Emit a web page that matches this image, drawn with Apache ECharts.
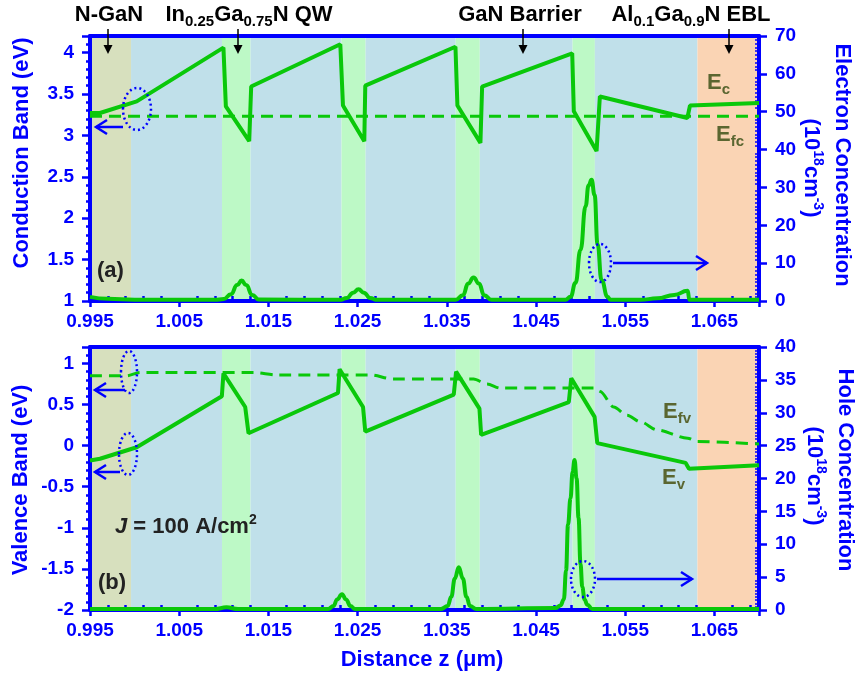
<!DOCTYPE html>
<html><head><meta charset="utf-8">
<script src="https://cdn.jsdelivr.net/npm/echarts@6/dist/echarts.min.js"></script>
<style>html,body{margin:0;padding:0;background:#fff}#c{width:856px;height:677px}</style>
</head><body><div id="c"></div>
<script>
// ---------------- data ----------------
const xTickLabels = ['0.995','1.005','1.015','1.025','1.035','1.045','1.055','1.065'];
const cbTickLabels = ['1','1.5','2','2.5','3','3.5','4'];
const vbTickLabels = ['-2','-1.5','-1','-0.5','0','0.5','1'];
const ecTickLabels = ['0','10','20','30','40','50','60','70'];
const hcTickLabels = ['0','5','10','15','20','25','30','35','40'];

// layer boundaries (um) and layer kinds
const regionBounds = [0.995, 0.9996, 1.0098, 1.0130, 1.0232, 1.0259, 1.0360, 1.0387, 1.0491, 1.0516, 1.0631, 1.07];
const regionKinds = ['nGaN','barrier','qw','barrier','qw','barrier','qw','barrier','qw','barrier','ebl'];

// conduction band Ec (eV)
const ecX = [0.995, 0.99612, 1.00024, 1.00996, 1.01023, 1.01285, 1.01307, 1.02306, 1.02336, 1.02575, 1.02586, 1.03597, 1.03619, 1.03877, 1.03896, 1.04906, 1.04924, 1.05179, 1.05216, 1.06197, 1.06226, 1.07];
const ecY = [3.27, 3.27, 3.41, 4.06, 3.35, 2.93, 3.59, 4.10, 3.36, 2.93, 3.60, 4.07, 3.36, 2.91, 3.59, 3.99, 3.29, 2.81, 3.47, 3.21, 3.36, 3.39];
// electron quasi-Fermi level Efc (eV)
const efcX = [0.995, 1.07];
const efcY = [3.23, 3.23];
// electron concentration (1e18 cm^-3)
const nX = [0.995, 0.997, 1.000, 1.0090, 1.0100, 1.0108, 1.0115, 1.0120, 1.0125, 1.0132, 1.0139, 1.0230, 1.0238, 1.0245, 1.0251, 1.0257, 1.0264, 1.0272, 1.0360, 1.0368, 1.0374, 1.0380, 1.0386, 1.0392, 1.0400, 1.04831, 1.04887, 1.04943, 1.04999, 1.05056, 1.05089, 1.05123, 1.05157, 1.0519, 1.05235, 1.05302, 1.05336, 1.0567, 1.0586, 1.0605, 1.0620, 1.0622, 1.07];
const nY = [1.1, 0.6, 0.35, 0.3, 0.5, 1.8, 4.2, 5.4, 4.2, 1.6, 0.4, 0.3, 0.8, 2.2, 3.1, 2.2, 0.8, 0.3, 0.3, 1.5, 4.6, 6.2, 4.6, 1.5, 0.3, 0.3, 1.1, 4.8, 13.5, 25, 30.5, 32, 28, 15, 5.5, 1.1, 0.3, 0.3, 0.7, 1.6, 2.7, 0.3, 0.3];

// valence band Ev (eV)
const evX = [0.995, 0.99612, 1.00024, 1.00978, 1.00996, 1.0124, 1.01277, 1.0228, 1.02298, 1.02561, 1.02586, 1.03578, 1.03604, 1.03866, 1.03885, 1.04868, 1.04895, 1.05157, 1.05187, 1.06178, 1.06215, 1.07];
const evY = [-0.18, -0.16, -0.02, 0.60, 0.88, 0.47, 0.15, 0.64, 0.93, 0.47, 0.17, 0.62, 0.90, 0.45, 0.13, 0.53, 0.82, 0.35, 0.03, -0.21, -0.28, -0.24];
// hole quasi-Fermi level Efv (eV)
const efvX = [0.995, 0.9991, 1.0006, 1.0133, 1.0160, 1.0264, 1.0290, 1.0380, 1.0395, 1.0410, 1.0516, 1.0522, 1.0537, 1.0552, 1.0567, 1.0586, 1.0620, 1.0631, 1.07];
const efvY = [0.85, 0.85, 0.89, 0.89, 0.86, 0.86, 0.81, 0.81, 0.75, 0.70, 0.70, 0.66, 0.47, 0.37, 0.29, 0.19, 0.09, 0.05, 0.02];
// hole concentration (1e18 cm^-3)
const pX = [0.995, 1.0090, 1.0103, 1.0116, 1.0217, 1.0223, 1.0227, 1.02325, 1.0237, 1.0242, 1.0247, 1.0343, 1.0351, 1.0355, 1.0359, 1.03634, 1.0368, 1.0372, 1.0376, 1.0383, 1.04719, 1.04775, 1.04812, 1.04837, 1.04859, 1.04887, 1.0491, 1.04932, 1.04955, 1.04977, 1.04999, 1.05019, 1.05044, 1.05075, 1.05131, 1.07];
const pY = [0.15, 0.15, 0.4, 0.15, 0.15, 0.6, 1.6, 2.4, 1.6, 0.6, 0.15, 0.15, 0.6, 2.0, 4.8, 6.5, 4.8, 2.0, 0.6, 0.15, 0.3, 0.7, 1.6, 6, 13, 17, 21, 22.8, 20, 14, 7, 3.5, 1.6, 0.8, 0.15, 0.15];

// ---------------- styles ----------------
const BLUE = '#0000ff';
const GREEN = '#0ac80a';
const OLIVE = '#5a6630';
const FONT = '"Liberation Sans", Arial, sans-serif';
const regionColors = {nGaN:'#d7e0be', barrier:'#c0e0ea', qw:'#bdf9c6', ebl:'#fad4b4'};

const zip = (xs, ys) => xs.map((x, i) => [x, ys[i]]);
const fmtFrom = (list, digits) => v => { const s = String(+(+v).toFixed(digits)); return list.includes(s) ? s : ''; };
const fmtX = v => { const s = (+v).toFixed(3); return xTickLabels.includes(s) ? s : ''; };

function bandAreas() {
  const d = [];
  for (let i = 0; i < regionKinds.length; i++) {
    d.push([{xAxis: regionBounds[i], itemStyle: {color: regionColors[regionKinds[i]]}}, {xAxis: regionBounds[i + 1]}]);
  }
  return d;
}

const labelStyle = {color: BLUE, fontSize: 19, fontWeight: 'bold', fontFamily: FONT};

function xMain(gi) {
  return {type: 'value', gridIndex: gi, min: 0.995, max: 1.07, interval: 0.01, position: 'bottom', z: 5,
    axisLine: {show: true, onZero: false, lineStyle: {color: BLUE, width: 4}},
    axisTick: {show: true, length: 6, lineStyle: {color: BLUE, width: 2.5}},
    minorTick: {show: false},
    axisLabel: Object.assign({show: true, margin: 11, formatter: fmtX}, labelStyle),
    splitLine: {show: false}};
}
function xMinor(gi) {
  return {type: 'value', gridIndex: gi, min: 0.995, max: 1.07, interval: 0.01, position: 'bottom', z: 5,
    axisLine: {show: false, onZero: false},
    axisTick: {show: false, inside: true},
    minorTick: {show: true, splitNumber: 5, length: 5, lineStyle: {color: BLUE, width: 2.5}},
    axisLabel: {show: false}, splitLine: {show: false}};
}
function xTop(gi) {
  return {type: 'value', gridIndex: gi, min: 0.995, max: 1.07, position: 'top', z: 5,
    axisLine: {show: true, onZero: false, lineStyle: {color: BLUE, width: 4}},
    axisTick: {show: false}, axisLabel: {show: false}, splitLine: {show: false}};
}
function yLeft(gi, min, max, list) {
  return {type: 'value', gridIndex: gi, min, max, interval: 0.5, position: 'left', z: 5,
    axisLine: {show: true, onZero: false, lineStyle: {color: BLUE, width: 4}},
    axisTick: {show: true, length: 8, lineStyle: {color: BLUE, width: 2.5}},
    minorTick: {show: true, splitNumber: 5, length: 4, lineStyle: {color: BLUE, width: 2.5}},
    axisLabel: Object.assign({show: true, margin: 16, formatter: fmtFrom(list, 2)}, labelStyle),
    splitLine: {show: false}, minorSplitLine: {show: false}};
}
function yRight(gi, max, interval, list) {
  return {type: 'value', gridIndex: gi, min: 0, max, interval, position: 'right', z: 5,
    axisLine: {show: true, onZero: false, lineStyle: {color: BLUE, width: 4}},
    axisTick: {show: true, length: 8, lineStyle: {color: BLUE, width: 2.5}},
    minorTick: {show: false},
    axisLabel: Object.assign({show: true, margin: 16, formatter: fmtFrom(list, 2)}, labelStyle),
    splitLine: {show: false}};
}
function yRightMinor(gi, max, interval) {
  return {type: 'value', gridIndex: gi, min: 0, max, interval, position: 'right', z: 5,
    axisLine: {show: false, onZero: false},
    axisTick: {show: false, inside: true},
    minorTick: {show: true, splitNumber: 10, length: 4, lineStyle: {color: BLUE, width: 1.5}},
    axisLabel: {show: false}, splitLine: {show: false}};
}

function lineSeries(xi, yi, data, dashed, smooth) {
  return {type: 'line', xAxisIndex: xi, yAxisIndex: yi, data, symbol: 'none', showSymbol: false, z: 6,
    smooth: smooth || false, smoothMonotone: 'x', animation: false,
    lineStyle: {color: GREEN, width: dashed ? 3 : 4, type: dashed ? [12, 7] : 'solid'}};
}
function bandSeries(xi, yi) {
  return {type: 'line', xAxisIndex: xi, yAxisIndex: yi, data: [], z: 1, silent: true,
    markArea: {silent: true, label: {show: false}, data: bandAreas()}};
}

// ---------------- graphic helpers ----------------
const richBase = (color, size) => ({
  m: {fontSize: size, fontWeight: 'bold', fontFamily: FONT, fill: color, lineHeight: 28},
  i: {fontSize: size, fontWeight: 'bold', fontStyle: 'italic', fontFamily: FONT, fill: color, lineHeight: 28},
  s: {fontSize: 15, fontWeight: 'bold', fontFamily: FONT, fill: color, lineHeight: 10, verticalAlign: 'bottom'},
  u: {fontSize: 14, fontWeight: 'bold', fontFamily: FONT, fill: color, lineHeight: 13, verticalAlign: 'top'}
});
function T(x, y, text, color, opt) {
  opt = opt || {};
  return {type: 'text', x, y, rotation: opt.rot || 0, z: 100, silent: true,
    style: {text, rich: richBase(color, opt.size || 22), align: opt.align || 'center', verticalAlign: 'middle'}};
}
function blackArrow(x, y1, y2) {
  return [
    {type: 'line', z: 100, shape: {x1: x, y1: y1, x2: x, y2: y2 - 6}, style: {stroke: '#000', lineWidth: 1.5}},
    {type: 'polygon', z: 100, shape: {points: [[x - 4.5, y2 - 9], [x + 4.5, y2 - 9], [x, y2]]}, style: {fill: '#000'}}
  ];
}
function blueArrow(x1, x2, y) {
  const d = x2 > x1 ? 1 : -1;
  return [
    {type: 'line', z: 100, shape: {x1, y1: y, x2, y2: y}, style: {stroke: BLUE, lineWidth: 2.5}},
    {type: 'polyline', z: 100, shape: {points: [[x2 - d * 11, y - 7], [x2, y], [x2 - d * 11, y + 7]]}, style: {stroke: BLUE, lineWidth: 2.5, fill: null}}
  ];
}
function dotEllipse(cx, cy, rx, ry) {
  return {type: 'ellipse', z: 100, shape: {cx, cy, rx, ry}, style: {fill: null, stroke: BLUE, lineWidth: 2.5, lineDash: [2, 3]}};
}

const graphics = [].concat(
  T(109, 15, '{m|N-GaN}', '#000'),
  T(249, 15, '{m|In}{s|0.25}{m|Ga}{s|0.75}{m|N QW}', '#000'),
  T(520, 15, '{m|GaN Barrier}', '#000'),
  T(691, 15, '{m|Al}{s|0.1}{m|Ga}{s|0.9}{m|N EBL}', '#000'),
  blackArrow(108, 29, 54), blackArrow(238, 29, 54), blackArrow(523, 29, 54), blackArrow(729, 29, 54),
  T(707, 83, '{m|E}{s|c}', OLIVE, {align: 'left'}),
  T(716, 135, '{m|E}{s|fc}', OLIVE, {align: 'left'}),
  T(663, 412, '{m|E}{s|fv}', OLIVE, {align: 'left'}),
  T(662, 478, '{m|E}{s|v}', OLIVE, {align: 'left'}),
  T(97, 271, '{m|(a)}', '#222', {align: 'left'}),
  T(98, 583, '{m|(b)}', '#222', {align: 'left'}),
  T(115, 527, '{i|J}{m| = 100 A/cm}{u|2}', '#222', {align: 'left'}),
  T(22, 153, '{m|Conduction Band (eV)}', BLUE, {rot: Math.PI / 2}),
  T(21, 480, '{m|Valence Band (eV)}', BLUE, {rot: Math.PI / 2}),
  T(842, 165, '{m|Electron Concentration}', BLUE, {rot: -Math.PI / 2}),
  T(811, 168, '{m|(10}{u|18}{m|cm}{u|-3}{m|)}', BLUE, {rot: -Math.PI / 2}),
  T(845, 470, '{m|Hole Concentration}', BLUE, {rot: -Math.PI / 2}),
  T(814, 476, '{m|(10}{u|18}{m|cm}{u|-3}{m|)}', BLUE, {rot: -Math.PI / 2}),
  T(422, 660, '{m|Distance z (\u03bcm)}', BLUE),
  dotEllipse(137, 109, 14, 21), blueArrow(123, 96, 127),
  dotEllipse(600, 263, 11, 19), blueArrow(613, 707, 263),
  dotEllipse(129, 372, 8, 21), blueArrow(125, 95, 390),
  dotEllipse(128, 454, 9, 21), blueArrow(120, 95, 472),
  dotEllipse(583, 579, 12, 18), blueArrow(597, 692, 579)
);

const option = {
  animation: false,
  backgroundColor: '#fff',
  grid: [
    {left: 90, right: 97, top: 36, height: 265},
    {left: 90, right: 97, top: 347, height: 263}
  ],
  xAxis: [xMain(0), xMinor(0), xTop(0), xMain(1), xMinor(1), xTop(1)],
  yAxis: [
    yLeft(0, 1, 4.2, cbTickLabels), yRight(0, 70, 10, ecTickLabels), yRightMinor(0, 70, 10),
    yLeft(1, -2, 1.2, vbTickLabels), yRight(1, 40, 5, hcTickLabels), yRightMinor(1, 40, 5)
  ],
  series: [
    bandSeries(0, 0),
    lineSeries(0, 0, zip(ecX, ecY), false),
    lineSeries(0, 0, zip(efcX, efcY), true),
    lineSeries(0, 1, zip(nX, nY), false, 0.5),
    bandSeries(3, 3),
    lineSeries(3, 3, zip(evX, evY), false),
    lineSeries(3, 3, zip(efvX, efvY), true, 0.3),
    lineSeries(3, 4, zip(pX, pY), false, 0.45)
  ],
  graphic: {elements: graphics}
};
const chart = echarts.init(document.getElementById('c'), null, {renderer: 'canvas'});
chart.setOption(option);
</script></body></html>
